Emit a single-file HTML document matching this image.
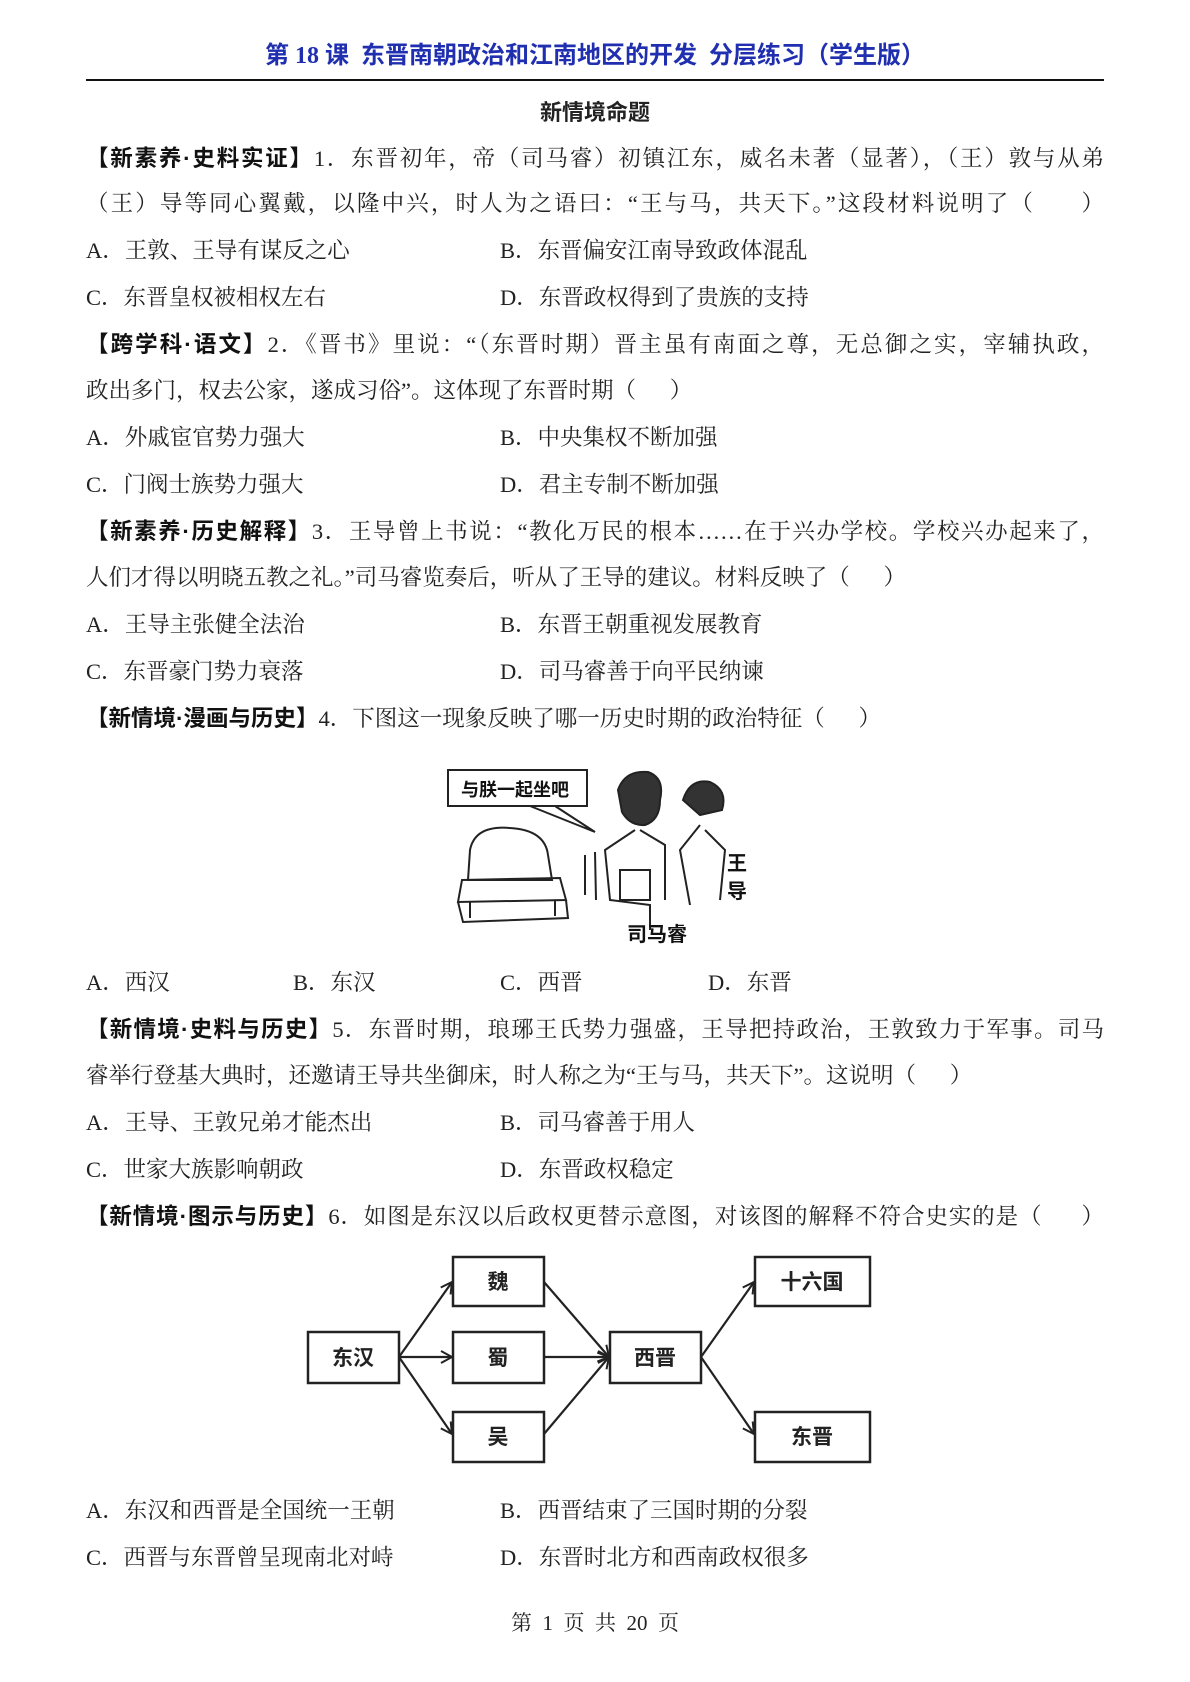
<!DOCTYPE html>
<html><head><meta charset="utf-8"><style>
html,body{margin:0;padding:0;background:#fff;}
body{width:1190px;height:1682px;position:relative;overflow:hidden;font-family:"Liberation Serif","Noto Serif CJK SC","Noto Sans CJK SC",serif;color:#222;}
.l{position:absolute;left:86px;width:1018px;font-size:22.5px;line-height:30px;white-space:nowrap;}
.j{text-align:justify;text-align-last:justify;}
.b{font-weight:bold;font-family:"Liberation Sans","Noto Sans CJK SC",sans-serif;color:#111;}
.o{position:absolute;font-size:22.5px;line-height:30px;white-space:nowrap;}
</style></head><body>
<div style="position:absolute;top:35px;left:0;width:1190px;text-align:center;font-size:24px;font-weight:bold;color:#1f2fb0;font-family:'Liberation Serif','Noto Sans CJK SC',serif;">第 18 课&nbsp; 东晋南朝政治和江南地区的开发&nbsp; 分层练习（学生版）</div>
<div style="position:absolute;top:79px;left:86px;width:1018px;height:2px;background:#111;"></div>
<div style="position:absolute;top:95px;left:0;width:1190px;text-align:center;font-size:22px;font-weight:bold;font-family:'Liberation Sans','Noto Sans CJK SC',sans-serif;">新情境命题</div>

<div class="l j" style="top:144px"><span class="b">【新素养·史料实证】</span>1．东晋初年，帝（司马睿）初镇江东，威名未著（显著），（王）敦与从弟</div>
<div class="l j" style="top:189px">（王）导等同心翼戴，以隆中兴，时人为之语曰：“王与马，共天下。”这段材料说明了（&nbsp;&nbsp;&nbsp;&nbsp;&nbsp;&nbsp;）</div>
<div class="o" style="top:236px;left:86px">A．王敦、王导有谋反之心</div><div class="o" style="top:236px;left:500px">B．东晋偏安江南导致政体混乱</div>
<div class="o" style="top:283px;left:86px">C．东晋皇权被相权左右</div><div class="o" style="top:283px;left:500px">D．东晋政权得到了贵族的支持</div>
<div class="l j" style="top:330px"><span class="b">【跨学科·语文】</span>2．《晋书》里说：“（东晋时期）晋主虽有南面之尊，无总御之实，宰辅执政，</div>
<div class="l" style="top:376px">政出多门，权去公家，遂成习俗”。这体现了东晋时期（&nbsp;&nbsp;&nbsp;&nbsp;&nbsp;&nbsp;）</div>
<div class="o" style="top:423px;left:86px">A．外戚宦官势力强大</div><div class="o" style="top:423px;left:500px">B．中央集权不断加强</div>
<div class="o" style="top:470px;left:86px">C．门阀士族势力强大</div><div class="o" style="top:470px;left:500px">D．君主专制不断加强</div>
<div class="l j" style="top:517px"><span class="b">【新素养·历史解释】</span>3．王导曾上书说：“教化万民的根本……在于兴办学校。学校兴办起来了，</div>
<div class="l" style="top:563px">人们才得以明晓五教之礼。”司马睿览奏后，听从了王导的建议。材料反映了（&nbsp;&nbsp;&nbsp;&nbsp;&nbsp;&nbsp;）</div>
<div class="o" style="top:610px;left:86px">A．王导主张健全法治</div><div class="o" style="top:610px;left:500px">B．东晋王朝重视发展教育</div>
<div class="o" style="top:657px;left:86px">C．东晋豪门势力衰落</div><div class="o" style="top:657px;left:500px">D．司马睿善于向平民纳谏</div>
<div class="l" style="top:704px"><span class="b">【新情境·漫画与历史】</span>4．下图这一现象反映了哪一历史时期的政治特征（&nbsp;&nbsp;&nbsp;&nbsp;&nbsp;&nbsp;）</div>

<svg style="position:absolute;left:440px;top:755px" width="320" height="195" viewBox="440 755 320 195">
<g fill="none" stroke="#222" stroke-width="2">
<rect x="448" y="770" width="139" height="36"/>
<path d="M530 806 L595 832 L555 806"/>
<path d="M470 850 Q475 825 510 828 Q545 830 548 855 L552 880 L468 880 Z"/>
<path d="M462 880 L560 878 L566 900 L458 902 Z"/>
<path d="M458 902 L463 922 L568 918 L566 900"/>
<path d="M470 902 L470 918 M555 900 L555 916"/>
<path d="M618 790 Q625 770 648 772 Q665 778 660 800 Q660 820 645 825 Q630 826 622 812 Z" fill="#333"/>
<path d="M635 830 L605 850 L610 900 L650 905 L650 930 M640 830 L665 845 L665 900"/>
<rect x="620" y="870" width="30" height="30"/>
<path d="M683 800 Q690 778 710 782 Q728 790 722 810 L700 815 Z" fill="#333"/>
<path d="M700 825 L680 850 L690 905 M705 830 L725 850 L720 900"/>
<path d="M585 855 L585 895 M595 852 L596 900"/>
</g>
<g font-family="Liberation Sans,Noto Sans CJK SC,sans-serif" font-weight="bold" fill="#111">
<text x="461" y="796" font-size="18">与朕一起坐吧</text>
<text x="727" y="870" font-size="20">王</text>
<text x="727" y="898" font-size="20">导</text>
<text x="627" y="941" font-size="20">司马睿</text>
</g>
</svg>

<div class="o" style="top:968px;left:86px">A．西汉</div><div class="o" style="top:968px;left:293px">B．东汉</div><div class="o" style="top:968px;left:500px">C．西晋</div><div class="o" style="top:968px;left:708px">D．东晋</div>
<div class="l j" style="top:1015px"><span class="b">【新情境·史料与历史】</span>5．东晋时期，琅琊王氏势力强盛，王导把持政治，王敦致力于军事。司马</div>
<div class="l" style="top:1061px">睿举行登基大典时，还邀请王导共坐御床，时人称之为“王与马，共天下”。这说明（&nbsp;&nbsp;&nbsp;&nbsp;&nbsp;&nbsp;）</div>
<div class="o" style="top:1108px;left:86px">A．王导、王敦兄弟才能杰出</div><div class="o" style="top:1108px;left:500px">B．司马睿善于用人</div>
<div class="o" style="top:1155px;left:86px">C．世家大族影响朝政</div><div class="o" style="top:1155px;left:500px">D．东晋政权稳定</div>
<div class="l j" style="top:1202px"><span class="b">【新情境·图示与历史】</span>6．如图是东汉以后政权更替示意图，对该图的解释不符合史实的是（&nbsp;&nbsp;&nbsp;&nbsp;&nbsp;&nbsp;）</div>

<svg style="position:absolute;left:0;top:0" width="1190" height="1682">
<defs><marker id="a" markerWidth="14" markerHeight="14" refX="12" refY="7" orient="auto" markerUnits="userSpaceOnUse"><path d="M1 1 L12 7 L1 13" fill="none" stroke="#222" stroke-width="2"/></marker></defs>
<g fill="#fff" stroke="#222" stroke-width="2.5">
<rect x="308" y="1332" width="91" height="51"/>
<rect x="453" y="1257" width="91" height="49"/>
<rect x="453" y="1332" width="91" height="51"/>
<rect x="453" y="1412" width="91" height="50"/>
<rect x="610" y="1332" width="91" height="51"/>
<rect x="755" y="1257" width="115" height="49"/>
<rect x="755" y="1412" width="115" height="50"/>
</g>
<g stroke="#222" stroke-width="2.2" fill="none" marker-end="url(#a)">
<line x1="399" y1="1357" x2="452" y2="1282"/>
<line x1="399" y1="1357" x2="452" y2="1357"/>
<line x1="399" y1="1357" x2="452" y2="1434"/>
<line x1="544" y1="1282" x2="609" y2="1357"/>
<line x1="544" y1="1357" x2="609" y2="1357"/>
<line x1="544" y1="1434" x2="609" y2="1357"/>
<line x1="701" y1="1357" x2="754" y2="1282"/>
<line x1="701" y1="1357" x2="754" y2="1434"/>
</g>
<g font-family="Liberation Sans,Noto Sans CJK SC,sans-serif" font-size="21" font-weight="bold" fill="#222" text-anchor="middle">
<text x="353" y="1365">东汉</text><text x="498" y="1289">魏</text><text x="498" y="1365">蜀</text><text x="498" y="1444">吴</text>
<text x="655" y="1365">西晋</text><text x="812" y="1289">十六国</text><text x="812" y="1444">东晋</text>
</g>
</svg>

<div class="o" style="top:1496px;left:86px">A．东汉和西晋是全国统一王朝</div><div class="o" style="top:1496px;left:500px">B．西晋结束了三国时期的分裂</div>
<div class="o" style="top:1543px;left:86px">C．西晋与东晋曾呈现南北对峙</div><div class="o" style="top:1543px;left:500px">D．东晋时北方和西南政权很多</div>
<div style="position:absolute;top:1607px;left:0;width:1190px;text-align:center;font-size:21px;">第&nbsp; 1&nbsp; 页&nbsp; 共&nbsp; 20&nbsp; 页</div>
</body></html>
